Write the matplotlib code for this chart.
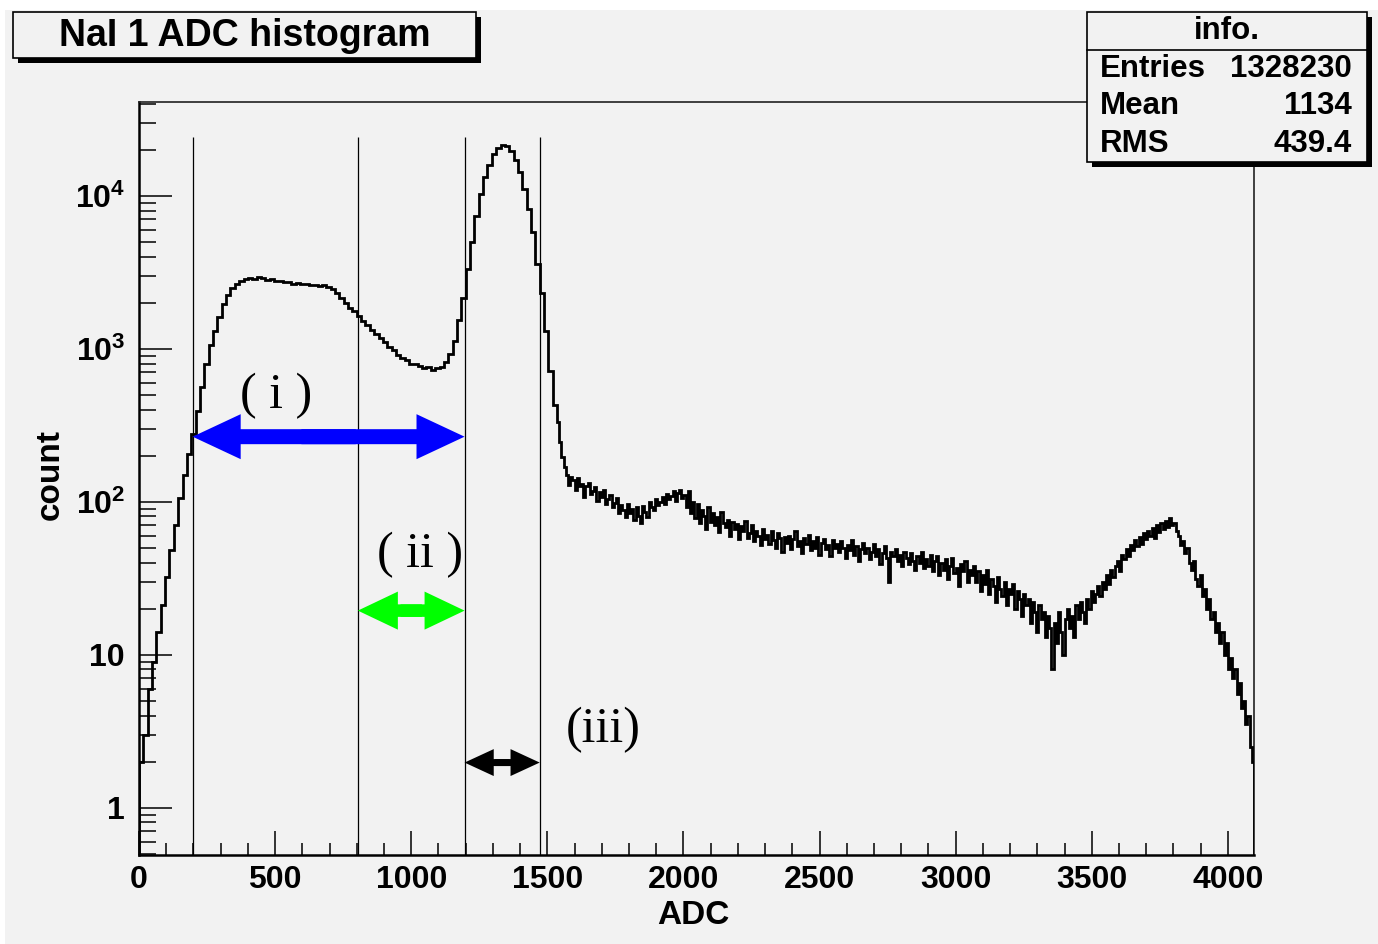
import numpy as np
import matplotlib
matplotlib.use("Agg")
import matplotlib.pyplot as plt
from matplotlib.patches import Rectangle, FancyArrowPatch, ArrowStyle
from matplotlib.lines import Line2D
from matplotlib.ticker import FixedLocator, FixedFormatter, NullFormatter, MultipleLocator, LogLocator

plt.rcParams['font.family'] = ['Liberation Sans', 'DejaVu Sans']
plt.rcParams['font.weight'] = 'bold'
plt.rcParams['mathtext.fontset'] = 'custom'
plt.rcParams['mathtext.rm'] = 'Liberation Sans:bold'
plt.rcParams['mathtext.it'] = 'Liberation Sans:bold'
plt.rcParams['mathtext.bf'] = 'Liberation Sans:bold'
plt.rcParams['mathtext.default'] = 'rm'

# ---------------- data ----------------
title = "NaI 1 ADC histogram"
x_label = "ADC"
y_label = "count"
stats_title = "info."
stats_names = ["Entries", "Mean", "RMS"]
stats_values = ["1328230", "1134", "439.4"]

# bins of 16 ADC channels from 0 to 1536
coarse_width = 16
counts_low = [
    # 0 - 256
    2, 3, 6, 9, 14, 21, 32, 48, 70, 105, 150, 205, 275, 390, 560, 790,
    # 256 - 512
    1050, 1300, 1600, 1950, 2250, 2480, 2650, 2780, 2850, 2900, 2870, 2940, 2880, 2820, 2860, 2790,
    # 512 - 768
    2760, 2720, 2740, 2660, 2690, 2630, 2650, 2600, 2620, 2560, 2600, 2540, 2470, 2330, 2150, 1980,
    # 768 - 1024
    1850, 1760, 1640, 1520, 1420, 1320, 1250, 1170, 1100, 1030, 980, 910, 870, 840, 800, 790,
    # 1024 - 1280
    770, 745, 760, 730, 750, 760, 820, 920, 1130, 1550, 2150, 3300, 5000, 7400, 10200, 13200,
    # 1280 - 1536
    16000, 18800, 20500, 21500, 21000, 19500, 17000, 14200, 11000, 8200, 5800, 3600, 2300, 1300, 720, 430,
]

# bins of 8 ADC channels from 1536 to 4096
fine_width = 8
counts_high = [
    # 1536 - 1792
    330, 245, 195, 168, 150, 128, 146, 138, 120, 142, 126, 131, 108, 127, 133, 112,
    118, 124, 101, 115, 107, 120, 96, 104, 110, 92, 98, 106, 84, 95, 88, 79,
    # 1792 - 2048
    96, 84, 90, 76, 92, 81, 73, 94, 86, 79, 100, 92, 88, 104, 95, 99,
    108, 97, 112, 104, 109, 118, 101, 114, 120, 106, 111, 92, 118, 84, 99, 78,
    # 2048 - 2304
    96, 72, 88, 81, 66, 92, 74, 84, 70, 79, 63, 85, 72, 68, 76, 60,
    74, 66, 71, 57, 69, 64, 75, 58, 62, 70, 55, 64, 60, 52, 66, 57,
    # 2304 - 2560
    61, 53, 64, 56, 50, 62, 58, 47, 59, 54, 60, 49, 57, 64, 51, 55,
    46, 58, 53, 61, 48, 55, 50, 59, 45, 54, 57, 49, 52, 44, 56, 50,
    # 2560 - 2816
    53, 47, 55, 50, 43, 52, 48, 56, 45, 51, 41, 49, 54, 46, 50, 42,
    47, 53, 44, 49, 39, 46, 51, 43, 30, 47, 44, 49, 41, 45, 38, 47,
    # 2816 - 3072
    43, 39, 46, 41, 36, 44, 40, 47, 37, 42, 38, 45, 35, 41, 44, 33,
    40, 36, 42, 31, 38, 43, 34, 37, 28, 39, 35, 41, 30, 36, 33, 38,
    # 3072 - 3328
    30, 35, 26, 33, 29, 36, 25, 31, 28, 22, 32, 27, 24, 30, 21, 27,
    25, 29, 20, 26, 23, 18, 25, 21, 23, 16, 22, 19, 14, 21, 17, 19,
    # 3328 - 3584
    13, 18, 15, 8, 16, 12, 19, 14, 10, 17, 20, 15, 18, 13, 21, 17,
    22, 19, 16, 23, 20, 26, 22, 25, 28, 24, 30, 27, 33, 29, 36, 32,
    # 3584 - 3840
    38, 41, 35, 45, 42, 49, 44, 52, 48, 56, 51, 59, 53, 62, 57, 64,
    60, 67, 58, 70, 63, 72, 66, 75, 68, 78, 70, 73, 64, 60, 52, 55,
    # 3840 - 4096
    46, 50, 40, 36, 41, 31, 28, 33, 24, 27, 20, 23, 17, 19, 14, 16,
    12, 14, 10, 12, 8, 9.5, 7, 8, 5.5, 6.5, 4.5, 5, 3.5, 4, 2.5, 2,
]

cut_adc = [197, 804, 1196, 1472]
cut_top = 24300

arrow_from = [197, 804, 1196]
arrow_to = [1196, 1196, 1472]
arrow_level = [266, 19.4, 1.97]
arrow_colors = ["#0000ff", "#00ff00", "#000000"]
arrow_labels = ["( i )", "( ii )", "(iii)"]
label_adc = [503, 1032, 1704]
label_level = [493, 45, 3.24]

x_ticks_major = 500
x_ticks_minor = 100
y_major = [1, 10, 100, 1000, 10000]
y_major_labels = ["1", "10", r"$10^{2}$", r"$10^{3}$", r"$10^{4}$"]

# ---------------- figure ----------------
W, H = 1378, 944
fig = plt.figure(figsize=(W / 100, H / 100), dpi=100, facecolor="white")
BG = "#f2f2f2"


def fbox(x0, y0, x1, y1):
    return (x0 / W, 1 - y1 / H), (x1 - x0) / W, (y1 - y0) / H


def fpt(x, y):
    return x / W, 1 - y / H


xy, w, h = fbox(5, 10, W, H)
fig.add_artist(Rectangle(xy, w, h, transform=fig.transFigure, facecolor=BG,
                         edgecolor="none", zorder=-10))

ax = fig.add_axes([139 / W, 1 - 855 / H, 1115 / W, 753 / H])
ax.set_facecolor(BG)

split = len(counts_low) * coarse_width
edges = np.concatenate([np.arange(len(counts_low)) * coarse_width,
                        split + np.arange(len(counts_high) + 1) * fine_width])
counts = list(counts_low) + list(counts_high)
ax.stairs(counts, edges, color="black", lw=2.0, zorder=3)

ax.set_xlim(0, 4096)
ax.set_yscale("log")
ax.set_ylim(0.49, 4.1e4)

ymin = ax.get_ylim()[0]
ax.vlines(cut_adc, ymin, cut_top, color="black", lw=0.9, zorder=2)

arrow_sizes = [(34.6, 32.4, 10.8), (28.8, 27.4, 9.0), (21.0, 19.4, 5.0)]
for a, b, lvl, col, (hl, hw, tw) in zip(arrow_from, arrow_to, arrow_level,
                                        arrow_colors, arrow_sizes):
    span = b - a
    style = ArrowStyle.Simple(head_length=hl, head_width=hw, tail_width=tw)
    for start, end in ((a + 0.6 * span, a), (b - 0.6 * span, b)):
        p = FancyArrowPatch((start, lvl), (end, lvl), arrowstyle=style,
                            mutation_scale=1, shrinkA=0, shrinkB=0,
                            color=col, lw=0, zorder=4)
        ax.add_patch(p)

for txt, xa, ya in zip(arrow_labels, label_adc, label_level):
    ax.text(xa, ya, txt, family="Liberation Serif", fontweight="normal",
            fontsize=36, ha="center", va="center", zorder=5)

# ticks
ax.xaxis.set_major_locator(MultipleLocator(x_ticks_major))
ax.xaxis.set_minor_locator(MultipleLocator(x_ticks_minor))
ax.yaxis.set_major_locator(FixedLocator(y_major))
ax.yaxis.set_major_formatter(FixedFormatter(y_major_labels))
ax.yaxis.set_minor_locator(LogLocator(base=10, subs=np.arange(2, 10), numticks=30))
ax.yaxis.set_minor_formatter(NullFormatter())

ax.tick_params(axis="x", which="major", direction="in", length=17, width=1.1,
               labelsize=23, pad=7, top=False)
ax.tick_params(axis="x", which="minor", direction="in", length=8.5, width=1.1, top=False)
ax.tick_params(axis="y", which="major", direction="in", length=24, width=1.1,
               labelsize=23, pad=10, right=False)
ax.tick_params(axis="y", which="minor", direction="in", length=12, width=1.1, right=False)

for side in ("left", "bottom"):
    ax.spines[side].set_linewidth(1.8)
for side in ("top", "right"):
    ax.spines[side].set_linewidth(1.2)
    ax.spines[side].set_color("#222222")

ax.set_xlabel(x_label, fontsize=24, fontweight="bold")
ax.set_ylabel(y_label, fontsize=24, fontweight="bold")
ax.xaxis.set_label_coords((693 - 139) / 1115, (855 - 916) / 753)
ax.xaxis.label.set_verticalalignment("center")
ax.yaxis.set_label_coords((50 - 139) / 1115, (855 - 475) / 753)
ax.yaxis.label.set_verticalalignment("center")

# title box
sh = 5
xy, w, h = fbox(13 + sh, 12 + sh, 476 + sh, 58 + sh)
fig.add_artist(Rectangle(xy, w, h, transform=fig.transFigure, facecolor="black",
                         edgecolor="black", lw=0, zorder=10))
xy, w, h = fbox(13, 12, 476, 58)
fig.add_artist(Rectangle(xy, w, h, transform=fig.transFigure, facecolor=BG,
                         edgecolor="black", lw=1.2, zorder=11))
fig.text(*fpt(244.5, 36), title, fontsize=27, fontweight="bold",
         ha="center", va="center", zorder=12)

# stats box
xy, w, h = fbox(1087 + sh, 12 + sh, 1367 + sh, 162 + sh)
fig.add_artist(Rectangle(xy, w, h, transform=fig.transFigure, facecolor="black",
                         edgecolor="black", lw=0, zorder=10))
xy, w, h = fbox(1087, 12, 1367, 162)
fig.add_artist(Rectangle(xy, w, h, transform=fig.transFigure, facecolor=BG,
                         edgecolor="black", lw=1.2, zorder=11))
x0, y0 = fpt(1087, 50)
x1, _ = fpt(1367, 50)
fig.add_artist(Line2D([x0, x1], [y0, y0], transform=fig.transFigure,
                      color="black", lw=1.2, zorder=12))
fig.text(*fpt(1227, 31), stats_title, fontsize=22.5, fontweight="bold",
         ha="center", va="center", zorder=12)
for i, (nm, val) in enumerate(zip(stats_names, stats_values)):
    yy = 69 + i * 37.5
    fig.text(*fpt(1100, yy), nm, fontsize=22.5, fontweight="bold",
             ha="left", va="center", zorder=12)
    fig.text(*fpt(1352, yy), val, fontsize=22.5, fontweight="bold",
             ha="right", va="center", zorder=12)

fig.savefig("out.png", dpi=100, facecolor=fig.get_facecolor())
